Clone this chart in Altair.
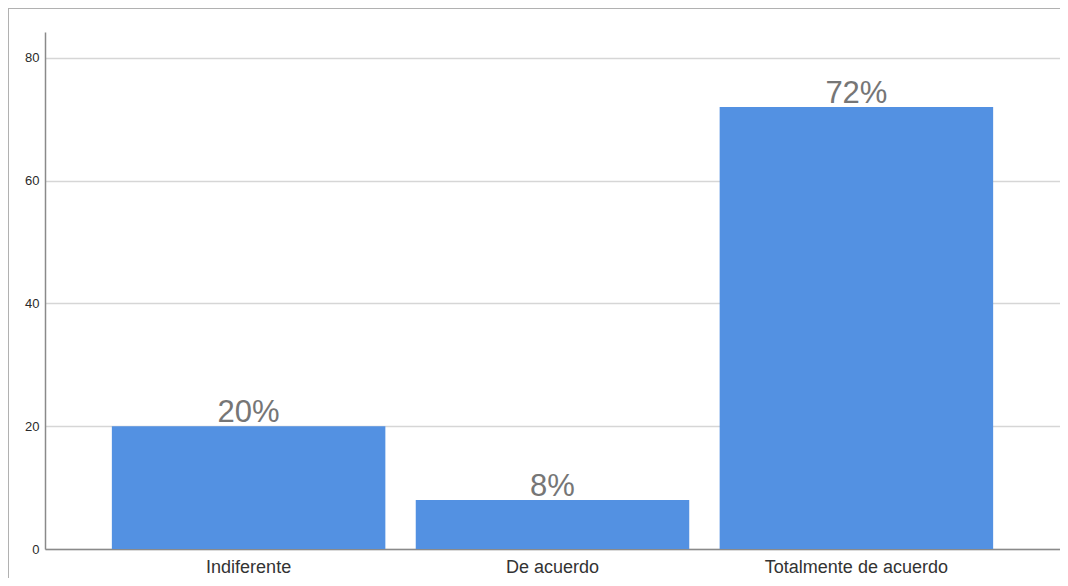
import altair as alt
import pandas as pd

categories = ["Indiferente", "De acuerdo", "Totalmente de acuerdo"]
values = [20, 8, 72]
labels = ["20%", "8%", "72%"]

df = pd.DataFrame({"cat": categories, "val": values, "lab": labels})

W, H = 1015, 517

x = alt.X("cat:N", sort=categories, title=None,
          scale=alt.Scale(paddingInner=0.1, paddingOuter=0.22),
          axis=alt.Axis(labelAngle=0, labelFontSize=18, labelColor="#333333",
                        labelFont="Liberation Sans", ticks=False, labelPadding=9,
                        labelLimit=500,
                        domainColor="#8a8a8a", domainWidth=1.5, grid=False))
y = alt.Y("val:Q", title=None,
          scale=alt.Scale(domain=[0, 84.2], nice=False),
          axis=alt.Axis(values=[0, 20, 40, 60, 80], labelFontSize=13,
                        labelColor="#2a2a2a", labelFont="Liberation Sans",
                        ticks=False, labelPadding=6, domainColor="#8a8a8a",
                        domainWidth=1.5, gridColor="#d6d6d6", gridWidth=1.5))

bars = alt.Chart(df).mark_bar(color="#5391e2").encode(x=x, y=y)
text = alt.Chart(df).mark_text(baseline="alphabetic", dy=-4, fontSize=31,
                               color="#767676", font="Liberation Sans").encode(
    x=alt.X("cat:N", sort=categories), y="val:Q", text="lab:N")

frame_top = alt.Chart(df).mark_rule(color="#b0b0b0", strokeWidth=1.5).encode(
    x=alt.value(-37), x2=alt.value(1030), y=alt.value(-24))
frame_left = alt.Chart(df).mark_rule(color="#b0b0b0", strokeWidth=1.5).encode(
    x=alt.value(-37), y=alt.value(-24), y2=alt.value(560))

chart = (frame_top + frame_left + bars + text).properties(
    width=W, height=H,
    background="white",
    autosize=alt.AutoSizeParams(type="none"),
    padding={"left": 37, "top": 24, "right": 0, "bottom": 29},
).configure_view(stroke="transparent", strokeWidth=0)

chart.save("out.html", embed_options={"renderer": "svg", "actions": False})
